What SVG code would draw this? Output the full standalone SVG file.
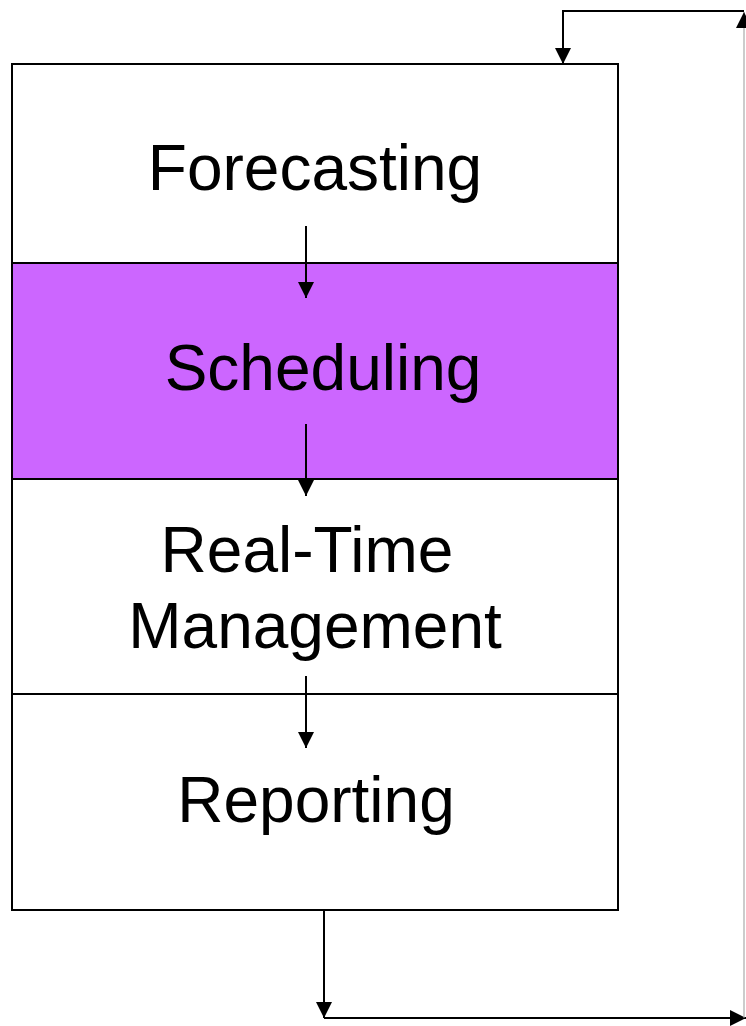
<svg xmlns="http://www.w3.org/2000/svg" width="746" height="1026" viewBox="0 0 746 1026">
<style>
.box{stroke:#000;stroke-width:2}
.lbl{font-family:"Liberation Sans",Arial,sans-serif;font-size:64px;fill:#000;text-anchor:middle}
.conn{fill:none;stroke:#000;stroke-width:2}
</style>
<defs>
<marker id="ah" markerUnits="userSpaceOnUse" markerWidth="16" markerHeight="16" refX="15" refY="7.5" orient="auto" viewBox="0 0 15 15">
<path d="M0,0 L15,7.5 L0,15 z" fill="#000"/>
</marker>
</defs>
<rect x="0" y="0" width="746" height="1026" fill="#fff"/>
<g id="forecasting">
<rect class="box" x="12" y="64" width="606" height="199" fill="#fff"/>
<text class="lbl" x="315" y="190">Forecasting</text>
</g>
<g id="scheduling">
<rect class="box" x="12" y="263" width="606" height="216" fill="#CC66FF"/>
<text class="lbl" x="323" y="390">Scheduling</text>
</g>
<g id="realtime">
<rect class="box" x="12" y="479" width="606" height="215" fill="#fff"/>
<text class="lbl" x="307" y="572">Real-Time</text>
<text class="lbl" x="315" y="648">Management</text>
</g>
<g id="reporting">
<rect class="box" x="12" y="694" width="606" height="216" fill="#fff"/>
<text class="lbl" x="316" y="822">Reporting</text>
</g>
<g id="connectors">
<line class="conn" x1="306" y1="226" x2="306" y2="298" marker-end="url(#ah)"/>
<line class="conn" x1="306" y1="424" x2="306" y2="496" marker-end="url(#ah)"/>
<line class="conn" x1="306" y1="676" x2="306" y2="748" marker-end="url(#ah)"/>
<line class="conn" x1="324" y1="911" x2="324" y2="1018" marker-end="url(#ah)"/>
<line class="conn" x1="324" y1="1018" x2="746" y2="1018" marker-end="url(#ah)"/>
<line x1="744" y1="1018" x2="744" y2="12" stroke="#999" stroke-width="1" marker-end="url(#ah)"/>
<polyline class="conn" points="744,11 563,11 563,64" marker-end="url(#ah)"/>
</g>
</svg>
